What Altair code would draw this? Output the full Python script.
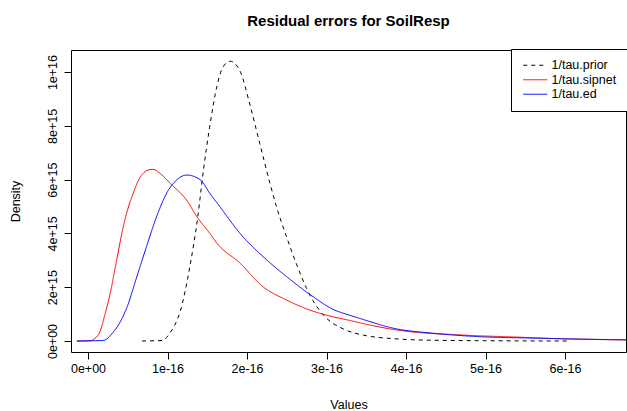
import altair as alt
import pandas as pd

# Values (x in units of 1e-16, density in units of 1e15)
SERIES = ["1/tau.prior", "1/tau.sipnet", "1/tau.ed"]
COLORS = ["black", "red", "blue"]

PRIOR_X = [0.68, 0.94, 1.03, 1.09, 1.16, 1.28, 1.38, 1.45, 1.53, 1.62, 1.70, 1.79,
           1.91, 2.04, 2.16, 2.29, 2.37, 2.50, 2.63, 2.75, 2.83, 3.00, 3.21, 3.46,
           3.88, 4.30, 5.00, 6.06]
PRIOR_Y = [0.0, 0.02, 0.3, 0.58, 1.1, 2.75, 4.6, 6.3, 7.95, 9.45, 10.2, 10.4,
           10.05, 8.75, 7.35, 5.85, 5.0, 3.85, 2.8, 1.95, 1.5, 0.85, 0.45, 0.22,
           0.08, 0.03, 0.01, 0.0]

SIPNET_X = [-0.14, 0.03, 0.08, 0.15, 0.21, 0.28, 0.36, 0.44, 0.50, 0.57, 0.63,
            0.69, 0.76, 0.82, 0.92, 1.03, 1.24, 1.37, 1.53, 1.62, 1.91, 2.20,
            2.50, 2.79, 3.08, 3.30, 3.46, 3.88, 4.72, 5.35, 6.00, 6.80]
SIPNET_Y = [0.0, 0.01, 0.08, 0.35, 0.95, 1.78, 3.0, 4.2, 4.9, 5.5, 5.95,
            6.22, 6.36, 6.38, 6.2, 5.87, 5.24, 4.62, 4.01, 3.64, 2.90, 2.02,
            1.52, 1.15, 0.90, 0.76, 0.65, 0.41, 0.22, 0.15, 0.08, 0.04]

ED_X = [-0.14, 0.19, 0.31, 0.43, 0.49, 0.61, 0.74, 0.86, 0.99, 1.12, 1.24,
        1.41, 1.53, 1.66, 1.91, 2.25, 2.50, 2.83, 3.08, 3.30, 3.46, 3.88,
        4.30, 4.93, 5.56, 6.80]
ED_Y = [0.0, 0.02, 0.30, 0.85, 1.25, 2.35, 3.55, 4.6, 5.5, 6.0, 6.17,
        6.0, 5.5, 4.99, 4.01, 3.01, 2.39, 1.65, 1.18, 0.95, 0.80, 0.45,
        0.30, 0.16, 0.11, 0.04]

X_TICKS = [0, 1e-16, 2e-16, 3e-16, 4e-16, 5e-16, 6e-16]
Y_TICKS = [0, 2e15, 4e15, 6e15, 8e15, 1e16]

rows = []
for name, xs, ys in [(SERIES[0], PRIOR_X, PRIOR_Y),
                     (SERIES[1], SIPNET_X, SIPNET_Y),
                     (SERIES[2], ED_X, ED_Y)]:
    for i, (xv, yv) in enumerate(zip(xs, ys)):
        rows.append({"series": name, "order": i, "x": xv * 1e-16, "y": yv * 1e15})
df = pd.DataFrame(rows)

FONT = "Liberation Sans"
LABEL_EXPR = "datum.value == 0 ? '0e+00' : format(datum.value, '.0e')"

chart = alt.Chart(df).mark_line(strokeWidth=1, interpolate="monotone", clip=True).encode(
    x=alt.X("x:Q",
            scale=alt.Scale(domain=[-0.2138e-16, 6.767e-16], nice=False, zero=False),
            axis=alt.Axis(values=X_TICKS, title="Values", labelExpr=LABEL_EXPR)),
    y=alt.Y("y:Q",
            scale=alt.Scale(domain=[-0.409e15, 10.82e15], nice=False, zero=False),
            axis=alt.Axis(values=Y_TICKS, title="Density", labelAngle=-90,
                          labelAlign="center", labelBaseline="bottom",
                          labelExpr=LABEL_EXPR)),
    color=alt.Color("series:N", scale=alt.Scale(domain=SERIES, range=COLORS), title=None),
    strokeDash=alt.StrokeDash("series:N",
                              scale=alt.Scale(domain=SERIES, range=[[4, 4], [1, 0], [1, 0]]),
                              title=None),
    order="order:Q",
).properties(
    width=555, height=302,
    title=alt.TitleParams("Residual errors for SoilResp", font=FONT, fontSize=15,
                          fontWeight="bold", anchor="middle", baseline="alphabetic",
                          offset=8, color="black"),
    autosize=alt.AutoSizeParams(type="none"),
    padding={"left": 71, "top": 50, "right": 1, "bottom": 59},
).configure_view(
    stroke="black", strokeWidth=1
).configure_axis(
    grid=False, domain=False, tickColor="black", tickSize=7, tickWidth=1,
    labelFont=FONT, labelFontSize=12.5, labelColor="black",
    titleFont=FONT, titleFontSize=12.5, titleFontWeight="normal", titleColor="black",
).configure_axisX(
    labelPadding=3, titlePadding=24
).configure_axisY(
    labelPadding=5, titlePadding=24
).configure_legend(
    orient="none", legendX=440, legendY=-1, strokeColor="black", fillColor="white",
    padding=10, cornerRadius=0, symbolType="M-3,0H3", symbolSize=64,
    symbolOffset=8, symbolStrokeWidth=1, labelFont=FONT, labelFontSize=12.5,
    labelColor="black", labelOffset=10, rowPadding=1.5,
)

chart.save("out.html", embed_options={"renderer": "svg", "actions": False})
